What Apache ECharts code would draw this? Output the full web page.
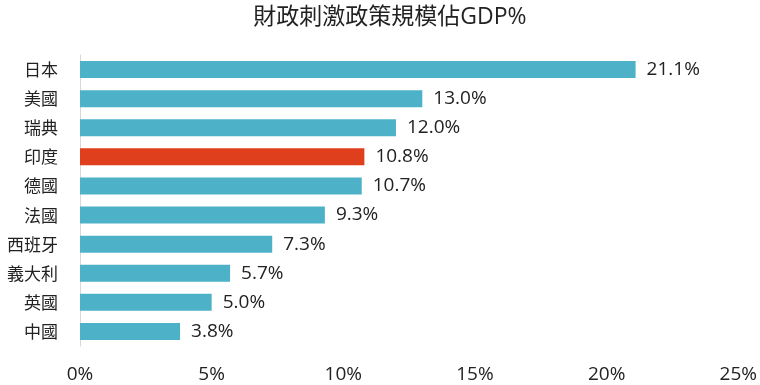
<!DOCTYPE html>
<html><head><meta charset="utf-8">
<script src="https://cdn.jsdelivr.net/npm/echarts@6/dist/echarts.min.js"></script>
<style>html,body{margin:0;padding:0;background:#fff}#c{width:760px;height:385px}</style>
</head><body><div id="c"></div>
<script>
const title = '財政刺激政策規模佔GDP%';
const categories = ['日本','美國','瑞典','印度','德國','法國','西班牙','義大利','英國','中國'];
const values = [21.1, 13.0, 12.0, 10.8, 10.7, 9.3, 7.3, 5.7, 5.0, 3.8];
const highlight = '印度';
const xTicks = [0, 5, 10, 15, 20, 25];

const FONT = '"Noto Sans CJK TC", "Noto Sans", sans-serif';
const NUMFONT = '"Open Sans", "Noto Sans CJK TC", sans-serif';
const chart = echarts.init(document.getElementById('c'));
chart.setOption({
  animation: false,
  title: {text: title, left: 385, textAlign: 'center', top: 1,
    textStyle: {fontFamily: NUMFONT, fontSize: 23, fontWeight: 'normal', color: '#222'}},
  grid: {left: 80, right: 21, top: 55, bottom: 39, containLabel: false},
  xAxis: {type: 'value', min: xTicks[0], max: xTicks[xTicks.length-1], interval: 5,
    axisLine: {show: false}, axisTick: {show: false}, splitLine: {show: false},
    axisLabel: {formatter: v => v + '%', margin: 19, fontFamily: NUMFONT, fontSize: 19, color: '#222'}},
  yAxis: {type: 'category', inverse: true, data: categories,
    axisLine: {show: true, lineStyle: {color: '#d8d8d8', width: 1}},
    axisTick: {show: false},
    axisLabel: {margin: 22, fontFamily: FONT, fontSize: 17, color: '#222'}},
  series: [{type: 'bar', barWidth: 17,
    data: values.map((v, i) => ({value: v, itemStyle: {color: categories[i] === highlight ? '#e03f1d' : '#4db2c7'}})),
    label: {show: true, position: 'right', distance: 11, formatter: p => p.value.toFixed(1) + '%',
      fontFamily: NUMFONT, fontSize: 19, color: '#222'}}]
});
</script></body></html>
